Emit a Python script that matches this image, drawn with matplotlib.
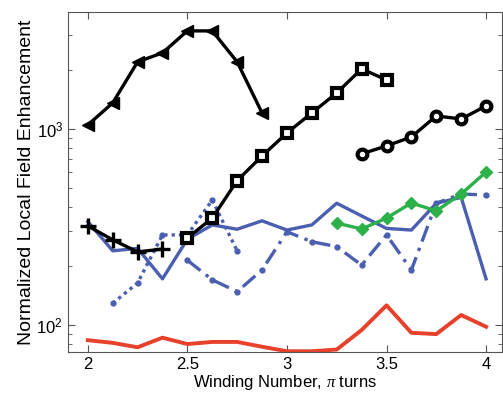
import numpy as np
import matplotlib
matplotlib.use('Agg')
import matplotlib.pyplot as plt

plt.rcParams['font.family'] = ['Liberation Sans', 'DejaVu Sans']
plt.rcParams['mathtext.fontset'] = 'custom'
plt.rcParams['mathtext.rm'] = 'Liberation Sans'
plt.rcParams['mathtext.it'] = 'Liberation Serif:italic'

# winding numbers (pi turns)
x_tri = [2, 2.125, 2.25, 2.375, 2.5, 2.625, 2.75, 2.875]
y_tri = [1048, 1357, 2198, 2443, 3162, 3162, 2198, 1207]

x_sq = [2.5, 2.625, 2.75, 2.875, 3, 3.125, 3.25, 3.375, 3.5]
y_sq = [278, 351, 545, 728, 954, 1207, 1526, 2024, 1778]

x_plus = [2, 2.125, 2.25, 2.375]
y_plus = [320, 272, 236, 244]

x_circ = [3.375, 3.5, 3.625, 3.75, 3.875, 4]
y_circ = [746, 819, 910, 1165, 1124, 1310]

x_green = [3.25, 3.375, 3.5, 3.625, 3.75, 3.875, 4]
y_green = [331, 309, 351, 419, 382, 466, 603]

x_blue = [2, 2.125, 2.25, 2.375, 2.5, 2.625, 2.75, 2.875, 3, 3.125,
          3.25, 3.375, 3.5, 3.625, 3.75, 3.875, 4]
y_blue = [337, 239, 246, 172, 274, 324, 308, 340, 305, 324,
          418, 360, 311, 305, 418, 448, 172]

x_dashdot = [2.5, 2.625, 2.75, 2.875, 3, 3.125, 3.25, 3.375, 3.5, 3.625,
             3.75, 3.875, 4]
y_dashdot = [214, 170, 148, 191, 299, 266, 251, 202, 288, 191,
             418, 466, 460]

x_dotted = [2.125, 2.25, 2.375, 2.5, 2.625, 2.75]
y_dotted = [129, 164, 288, 288, 434, 239]

x_red = [2, 2.125, 2.25, 2.375, 2.5, 2.625, 2.75, 2.875, 3, 3.125,
         3.25, 3.375, 3.5, 3.625, 3.75, 3.875, 4]
y_red = [83.7, 81.1, 77, 86.2, 80, 82, 82, 77.5, 73.5, 73.5,
         75, 94.3, 126, 91.3, 89.9, 112.5, 98]

blue = '#4a5fb0'
green = '#2bb04a'
red = '#e8412b'

fig = plt.figure(figsize=(5.03, 3.98), dpi=100)
ax = fig.add_axes([0.135, 0.116, 0.863, 0.854])

ax.plot(x_red, y_red, color=red, lw=2.8)
ax.plot(x_dotted, y_dotted, color=blue, lw=2.4, ls=(0, (1, 1.2)),
        marker='o', ms=3.5)
ax.plot(x_dashdot, y_dashdot, color=blue, lw=2.4, ls=(0, (5, 2, 1, 2)),
        marker='o', ms=3.5)
ax.plot(x_blue, y_blue, color=blue, lw=2.4)
ax.plot(x_green, y_green, color=green, lw=2.4, marker='D', ms=6)
ax.plot(x_tri, y_tri, color='black', lw=2.4, marker='<', ms=9)
ax.plot(x_sq, y_sq, color='black', lw=2.4, marker='s', ms=7,
        mfc='white', mew=3)
ax.plot(x_circ, y_circ, color='black', lw=2.4, marker='o', ms=7,
        mfc='white', mew=3)
ax.plot(x_plus, y_plus, color='black', lw=2.4, marker='+', ms=11, mew=2.4)

ax.set_yscale('log')
ax.set_xlim(1.9, 4.08)
ax.set_ylim(73, 3950)
ax.set_xticks([2, 2.5, 3, 3.5, 4])
ax.set_xticklabels(['2', '2.5', '3', '3.5', '4'])
ax.tick_params(which='both', direction='in', top=True, right=True,
               labelsize=12, color='#555555')
ax.tick_params(which='major', length=5)
ax.tick_params(which='minor', length=3)
for s in ax.spines.values():
    s.set_color('#555555')
    s.set_linewidth(0.8)

ax.set_xlabel(r'Winding Number, $\pi$ turns', fontsize=12, labelpad=1)
ax.set_ylabel('Normalized Local Field Enhancement', fontsize=14, labelpad=1)

fig.savefig('out.png', dpi=100)
